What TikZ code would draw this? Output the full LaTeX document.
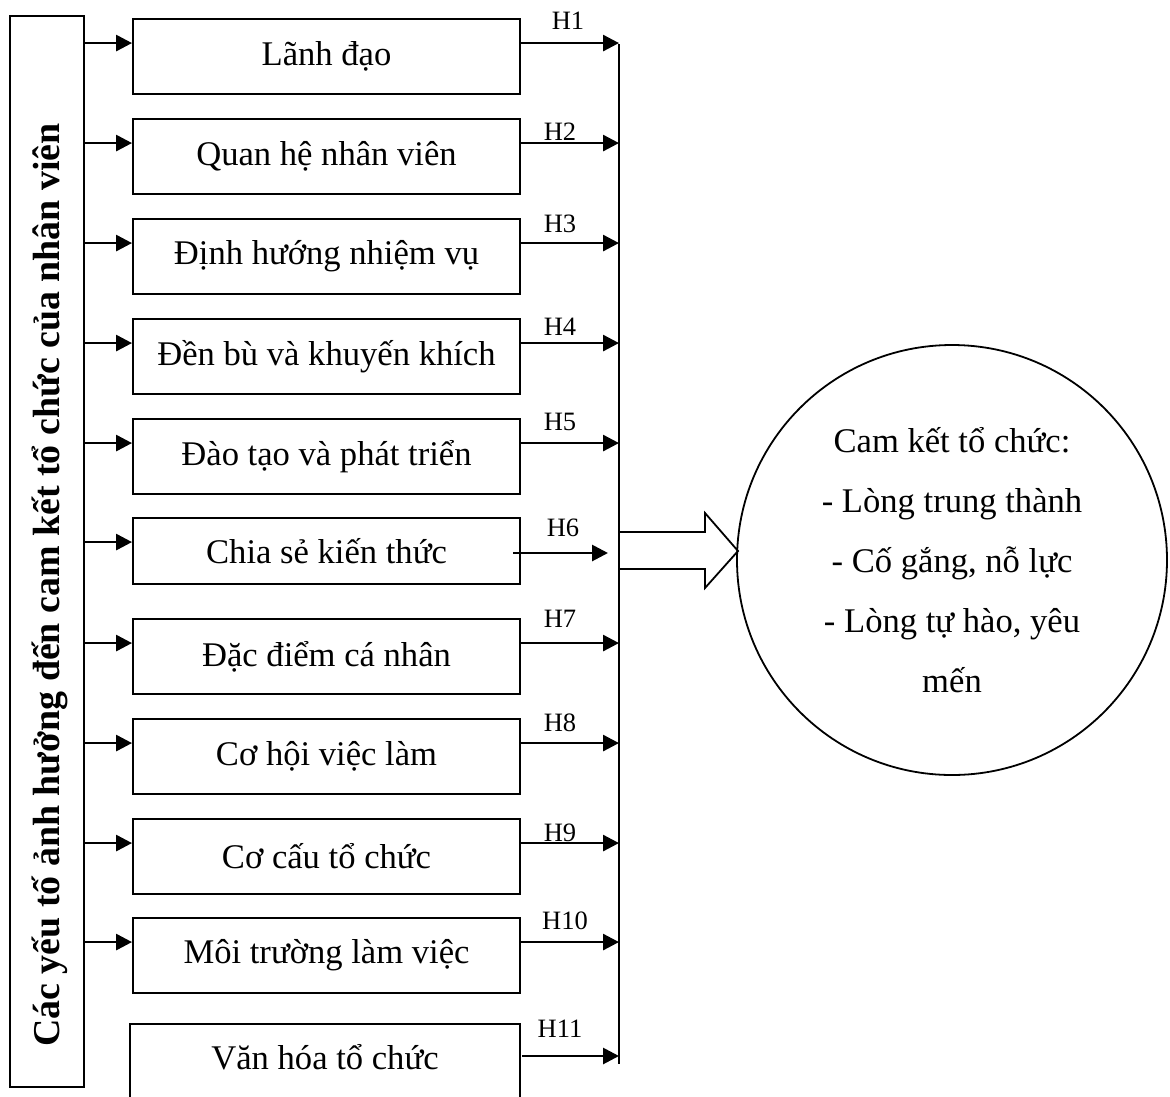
\documentclass[tikz,border=0pt]{standalone}
\usepackage{fontspec}
\setmainfont{Liberation Serif}
\usetikzlibrary{arrows.meta,calc}
\begin{document}
\begin{tikzpicture}[x=1pt,y=-1pt,
  box/.style={draw,line width=1.9pt,minimum width=387pt,minimum height=75pt,inner sep=0pt,font=\fontsize{34.6}{40}\selectfont},
  arr/.style={line width=2.8pt,-{Triangle[length=16pt,width=16pt]}},
  hl/.style={font=\fontsize{26.5}{30}\selectfont,inner sep=0pt},
  vline/.style={line width=2pt}]
\useasboundingbox (0,0) rectangle (1170,1096);
\clip (0,0) rectangle (1170,1096);
% left box
\node[draw,line width=1.9pt,minimum width=74pt,minimum height=1071pt,inner sep=0pt] (lb) at (47,551.5) {};
\node[rotate=90,inner sep=0pt,font=\bfseries\fontsize{37.9}{42}\selectfont] (lbt) at (50,585) {Các yếu tố ảnh hưởng đến cam kết tổ chức của nhân viên};
% factor boxes
\node[box] (b1) at (326.5,56.5) {Lãnh đạo};
\node[box] (b2) at (326.5,156.5) {Quan hệ nhân viên};
\node[box] (b3) at (326.5,256.5) {Định hướng nhiệm vụ};
\node[box] (b4) at (326.5,356.5) {Đền bù và khuyến khích};
\node[box] (b5) at (326.5,456.5) {Đào tạo và phát triển};
\node[box,minimum height=66pt] (b6) at (326.5,551) {Chia sẻ kiến thức};
\node[box] (b7) at (326.5,656.5) {Đặc điểm cá nhân};
\node[box] (b8) at (326.5,756.5) {Cơ hội việc làm};
\node[box] (b9) at (326.5,856.5) {Cơ cấu tổ chức};
\node[box] (b10) at (326.5,955.5) {Môi trường làm việc};
\node[box,minimum width=390pt,minimum height=100pt] (b11) at (325,1074) {};
\node[inner sep=0pt,font=\fontsize{34.6}{40}\selectfont] (t11) at (325,1057) {Văn hóa tổ chức};
% vertical collector line
\coordinate (vt) at (619,44);
\coordinate (vb) at (619,1064);
\draw[vline] (vt) -- (vb);
% arrows
\foreach \i in {1,2,3,4,5,6,7,8,9,10} {
  \path (b\i.north west) ++(0,25) coordinate (a\i);
  \draw[arr] (lb.east |- a\i) -- (a\i);
}
\foreach \i in {1,2,3,4,5,7,8,9,10} {
  \draw[arr] (b\i.east |- a\i) -- (vt |- a\i);
}
\coordinate (h6s) at (513,553);
\coordinate (h6e) at (608,553);
\draw[arr] (h6s) -- (h6e);
\coordinate (c11) at (522,1056);
\draw[arr] (c11) -- (vt |- c11);
% labels
\node[hl] (h1) at (568,21) {H1};
\node[hl] (h2) at (560,132) {H2};
\node[hl] (h3) at (560,224) {H3};
\node[hl] (h4) at (560,327) {H4};
\node[hl] (h5) at (560,422) {H5};
\node[hl] (h6) at (563,528) {H6};
\node[hl] (h7) at (560,619) {H7};
\node[hl] (h8) at (560,723) {H8};
\node[hl] (h9) at (560,833) {H9};
\node[hl] (h10) at (565,921) {H10};
\node[hl] (h11) at (560,1029) {H11};
% block arrow
\draw[line width=1.8pt,line join=miter] (619,532) -- (705,532) -- (705,513) -- (738,551) -- (705,588) -- (705,569) -- (619,569);
% outcome circle
\node[draw,circle,line width=1.8pt,minimum size=430pt,inner sep=0pt] (circ) at (952,560) {};
\node[align=center,inner sep=0pt,font=\fontsize{34.6}{60}\selectfont] (ctext) at (circ.center) {Cam kết tổ chức:\\- Lòng trung thành\\- Cố gắng, nỗ lực\\- Lòng tự hào, yêu\\mến};
\end{tikzpicture}
\end{document}
